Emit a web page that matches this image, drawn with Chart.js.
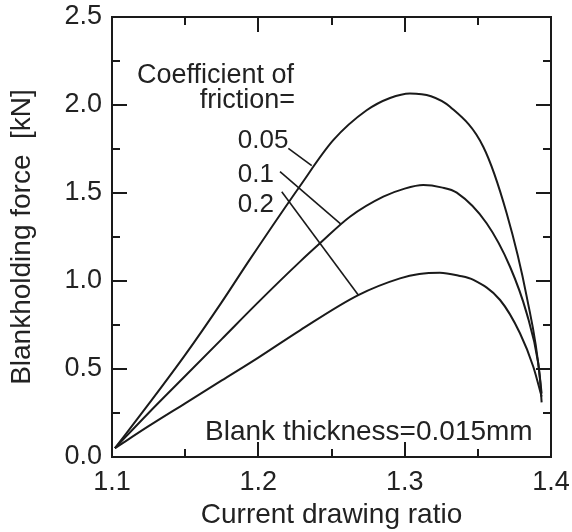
<!DOCTYPE html>
<html>
<head>
<meta charset="utf-8">
<script src="https://cdn.jsdelivr.net/npm/chart.js@4/dist/chart.umd.min.js"></script>
<style>
  html, body { margin: 0; padding: 0; background: #ffffff; }
  #wrap { width: 572px; height: 532px; }
</style>
</head>
<body>
<div id="wrap"><canvas id="c" width="572" height="532"></canvas></div>
<script>
// ---- data ----
const frictionLabels = ["0.05", "0.1", "0.2"];

const ratio005 = [1.102, 1.125, 1.15, 1.175, 1.194, 1.2285, 1.2512, 1.274, 1.29, 1.3036, 1.318, 1.331, 1.3537, 1.3697, 1.3834, 1.3925, 1.3936];
const force005 = [0.05, 0.30, 0.58, 0.88, 1.12, 1.54, 1.80, 1.97, 2.04, 2.066, 2.05, 1.99, 1.763, 1.385, 0.911, 0.44, 0.31];

const ratio01 = [1.102, 1.125, 1.15, 1.175, 1.2, 1.2285, 1.2421, 1.2626, 1.2854, 1.30, 1.3127, 1.325, 1.3356, 1.356, 1.372, 1.3834, 1.3913, 1.3936];
const force01 = [0.05, 0.25, 0.46, 0.67, 0.88, 1.11, 1.214, 1.365, 1.479, 1.525, 1.545, 1.532, 1.502, 1.328, 1.081, 0.816, 0.532, 0.36];

const ratio02 = [1.102, 1.125, 1.15, 1.175, 1.2, 1.2285, 1.2683, 1.2968, 1.31, 1.3241, 1.337, 1.347, 1.3652, 1.3788, 1.3879, 1.3936];
const force02 = [0.05, 0.175, 0.305, 0.435, 0.565, 0.72, 0.92, 1.015, 1.04, 1.047, 1.03, 1.006, 0.892, 0.703, 0.513, 0.343];

const xTickLabels = ["1.1", "1.2", "1.3", "1.4"];
const yTickLabels = ["0.0", "0.5", "1.0", "1.5", "2.0", "2.5"];

// annotation texts (placed in data coordinates)
const legendHeader = ["Coefficient of", "friction="];
const thicknessNote = "Blank thickness=0.015mm";

// ---- annotation placement (data coordinates) ----
const annot = {
  header: [{x: 1.117, y: 2.123}, {x: 1.160, y: 1.981}],
  labels: [{x: 1.186, y: 1.756}, {x: 1.186, y: 1.563}, {x: 1.186, y: 1.392}],
  pointers: [
    [{x: 1.2205, y: 1.754}, {x: 1.2365, y: 1.655}],
    [{x: 1.2148, y: 1.621}, {x: 1.2562, y: 1.325}],
    [{x: 1.216, y: 1.507}, {x: 1.2683, y: 0.92}]
  ],
  note: {x: 1.1636, y: 0.097}
};

const FONT = "'Liberation Sans', Arial, Helvetica, sans-serif";
const INK = "#1a1a1a";

function pts(xs, ys) { return xs.map((x, i) => ({x: x, y: ys[i]})); }
function isMultiple(v, step) { const q = v / step; return Math.abs(q - Math.round(q)) < 1e-6; }

const series = [
  {label: frictionLabels[0], data: pts(ratio005, force005)},
  {label: frictionLabels[1], data: pts(ratio01, force01)},
  {label: frictionLabels[2], data: pts(ratio02, force02)}
];

const frameAndTicks = {
  id: 'frameAndTicks',
  afterDraw(chart) {
    const ctx = chart.ctx;
    const a = chart.chartArea;
    const xs = chart.scales.x, ys = chart.scales.y;
    ctx.save();
    ctx.strokeStyle = INK;
    ctx.lineWidth = 2;
    ctx.lineCap = 'butt';
    // frame
    ctx.strokeRect(a.left, a.top, a.right - a.left, a.bottom - a.top);
    // x ticks (bottom & top, inward)
    xs.ticks.forEach(t => {
      const major = isMultiple(t.value - 1.1, 0.1);
      const len = major ? 15 : 8;
      const px = Math.round(xs.getPixelForValue(t.value));
      if (px <= a.left + 1 || px >= a.right - 1) return;
      ctx.beginPath();
      ctx.moveTo(px, a.bottom); ctx.lineTo(px, a.bottom - len);
      ctx.moveTo(px, a.top); ctx.lineTo(px, a.top + len);
      ctx.stroke();
    });
    ys.ticks.forEach(t => {
      const major = isMultiple(t.value, 0.5);
      const len = major ? 15 : 8;
      const py = Math.round(ys.getPixelForValue(t.value));
      if (py <= a.top + 1 || py >= a.bottom - 1) return;
      ctx.beginPath();
      ctx.moveTo(a.left, py); ctx.lineTo(a.left + len, py);
      ctx.moveTo(a.right, py); ctx.lineTo(a.right - len, py);
      ctx.stroke();
    });
    // pointer lines
    ctx.lineWidth = 1.6;
    annot.pointers.forEach(p => {
      ctx.beginPath();
      ctx.moveTo(xs.getPixelForValue(p[0].x), ys.getPixelForValue(p[0].y));
      ctx.lineTo(xs.getPixelForValue(p[1].x), ys.getPixelForValue(p[1].y));
      ctx.stroke();
    });
    // texts
    ctx.fillStyle = "#222222";
    ctx.textBaseline = 'alphabetic';
    ctx.textAlign = 'left';
    ctx.font = "27px " + FONT;
    legendHeader.forEach((s, i) => {
      ctx.fillText(s, xs.getPixelForValue(annot.header[i].x), ys.getPixelForValue(annot.header[i].y));
    });
    ctx.font = "26px " + FONT;
    frictionLabels.forEach((s, i) => {
      ctx.fillText(s, xs.getPixelForValue(annot.labels[i].x), ys.getPixelForValue(annot.labels[i].y));
    });
    ctx.font = "28px " + FONT;
    ctx.fillText(thicknessNote, xs.getPixelForValue(annot.note.x), ys.getPixelForValue(annot.note.y));
    ctx.restore();
  }
};

new Chart(document.getElementById('c'), {
  type: 'scatter',
  data: {
    datasets: series.map(s => ({
      label: s.label,
      data: s.data,
      showLine: true,
      borderColor: INK,
      backgroundColor: INK,
      borderWidth: 2,
      pointRadius: 0,
      pointHoverRadius: 0,
      cubicInterpolationMode: 'monotone',
      fill: false
    }))
  },
  options: {
    responsive: false,
    animation: false,
    devicePixelRatio: 1,
    layout: { padding: { top: 17, right: 21, left: 0, bottom: 0 } },
    plugins: { legend: { display: false }, tooltip: { enabled: false } },
    scales: {
      x: {
        type: 'linear',
        min: 1.1, max: 1.4,
        afterFit(s) { s.height = 75; s.paddingLeft = 0; s.paddingRight = 0; },
        grid: { display: false, drawTicks: false },
        border: { display: false },
        ticks: {
          stepSize: 0.05,
          autoSkip: false,
          maxRotation: 0,
          padding: 9,
          color: "#222222",
          font: { family: FONT, size: 27 },
          callback(v) {
            if (!isMultiple(v - 1.1, 0.1)) return '';
            const lbl = v.toFixed(1);
            return xTickLabels.includes(lbl) ? lbl : '';
          }
        },
        title: {
          display: true,
          text: "Current drawing ratio",
          color: "#222222",
          font: { family: FONT, size: 28 },
          padding: { top: 0, bottom: 0 }
        }
      },
      y: {
        type: 'linear',
        min: 0, max: 2.5,
        afterFit(s) { s.width = 112; s.paddingTop = 0; s.paddingBottom = 0; },
        grid: { display: false, drawTicks: false },
        border: { display: false },
        ticks: {
          stepSize: 0.25,
          autoSkip: false,
          padding: 10,
          color: "#222222",
          font: { family: FONT, size: 27 },
          callback(v) {
            if (!isMultiple(v, 0.5)) return '';
            const lbl = v.toFixed(1);
            return yTickLabels.includes(lbl) ? lbl : '';
          }
        },
        title: {
          display: true,
          text: "Blankholding force  [kN]",
          color: "#222222",
          font: { family: FONT, size: 28 },
          padding: { top: 5, bottom: 0 }
        }
      }
    }
  },
  plugins: [frameAndTicks]
});
</script>
</body>
</html>
